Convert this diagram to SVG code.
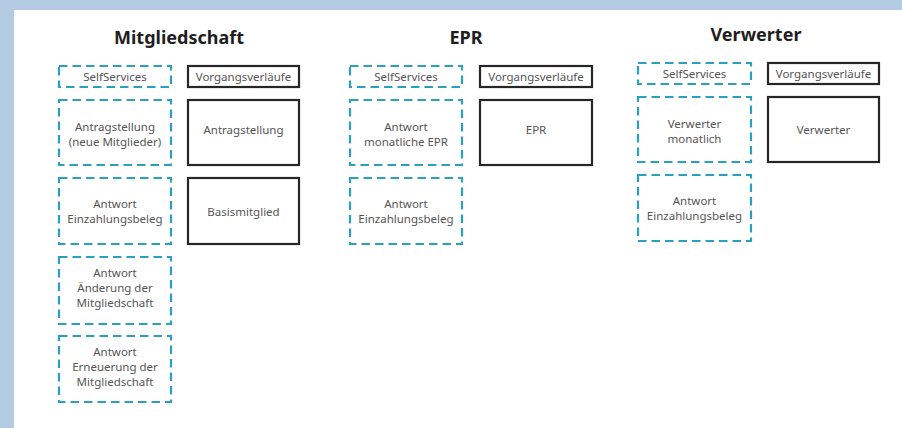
<svg xmlns="http://www.w3.org/2000/svg" width="902" height="428" viewBox="0 0 902 428">
<style>
.bg{fill:#b3cce3}
.panel{fill:#ffffff}
.title{font-family:"Noto Sans","Liberation Sans",sans-serif;font-weight:700;font-size:18px;fill:#1e1e1e;text-anchor:middle}
.lbl{font-family:"Noto Sans","Liberation Sans",sans-serif;font-size:11.5px;fill:#555555;text-anchor:middle}
.dash{fill:#ffffff;stroke:#2b9fc2;stroke-width:2.2;stroke-dasharray:8.5 5}
.solid{fill:#ffffff;stroke:#262626;stroke-width:2.2}
</style>
<rect class="bg" x="0" y="0" width="902" height="428"/>
<rect class="panel" x="14" y="10" width="888" height="418"/>
<g id="connectors"></g>
<g id="col-mitgliedschaft">
  <text class="title" x="179" y="44">Mitgliedschaft</text>
  <g id="m-selfservices"><rect class="dash" x="59" y="66" width="112" height="21"/><text class="lbl" x="115" y="81">SelfServices</text></g>
  <g id="m-vorgang"><rect class="solid" x="188" y="66" width="111" height="21"/><text class="lbl" x="243.5" y="81">Vorgangsverläufe</text></g>
  <g id="m-antrag-ss"><rect class="dash" x="59" y="100" width="112" height="65"/><text class="lbl" x="115" y="131">Antragstellung</text><text class="lbl" x="115" y="146">(neue Mitglieder)</text></g>
  <g id="m-antrag-vv"><rect class="solid" x="188" y="100" width="111" height="65"/><text class="lbl" x="243.5" y="134">Antragstellung</text></g>
  <g id="m-einzahl"><rect class="dash" x="59" y="178" width="112" height="66"/><text class="lbl" x="115" y="208">Antwort</text><text class="lbl" x="115" y="223">Einzahlungsbeleg</text></g>
  <g id="m-basis"><rect class="solid" x="188" y="178" width="111" height="66"/><text class="lbl" x="243.5" y="216">Basismitglied</text></g>
  <g id="m-aenderung"><rect class="dash" x="59" y="257" width="112" height="67"/><text class="lbl" x="115" y="277">Antwort</text><text class="lbl" x="115" y="292">Änderung der</text><text class="lbl" x="115" y="307">Mitgliedschaft</text></g>
  <g id="m-erneuerung"><rect class="dash" x="59" y="336" width="112" height="66"/><text class="lbl" x="115" y="356">Antwort</text><text class="lbl" x="115" y="371">Erneuerung der</text><text class="lbl" x="115" y="386">Mitgliedschaft</text></g>
</g>
<g id="col-epr">
  <text class="title" x="466" y="44">EPR</text>
  <g id="e-selfservices"><rect class="dash" x="350" y="66" width="112" height="21"/><text class="lbl" x="406" y="81">SelfServices</text></g>
  <g id="e-vorgang"><rect class="solid" x="480" y="66" width="112" height="21"/><text class="lbl" x="536" y="81">Vorgangsverläufe</text></g>
  <g id="e-monatlich"><rect class="dash" x="350" y="100" width="112" height="65"/><text class="lbl" x="406" y="131">Antwort</text><text class="lbl" x="406" y="146">monatliche EPR</text></g>
  <g id="e-epr"><rect class="solid" x="480" y="100" width="112" height="65"/><text class="lbl" x="536" y="134">EPR</text></g>
  <g id="e-einzahl"><rect class="dash" x="350" y="178" width="112" height="66"/><text class="lbl" x="406" y="208">Antwort</text><text class="lbl" x="406" y="223">Einzahlungsbeleg</text></g>
</g>
<g id="col-verwerter">
  <text class="title" x="756" y="41">Verwerter</text>
  <g id="v-selfservices"><rect class="dash" x="638" y="63" width="113" height="21"/><text class="lbl" x="694.5" y="78">SelfServices</text></g>
  <g id="v-vorgang"><rect class="solid" x="768" y="63" width="111" height="21"/><text class="lbl" x="823.5" y="78">Vorgangsverläufe</text></g>
  <g id="v-monatlich"><rect class="dash" x="638" y="97" width="113" height="65"/><text class="lbl" x="694.5" y="128">Verwerter</text><text class="lbl" x="694.5" y="143">monatlich</text></g>
  <g id="v-verwerter"><rect class="solid" x="768" y="97" width="111" height="65"/><text class="lbl" x="823.5" y="134">Verwerter</text></g>
  <g id="v-einzahl"><rect class="dash" x="638" y="175" width="113" height="66"/><text class="lbl" x="694.5" y="205">Antwort</text><text class="lbl" x="694.5" y="220">Einzahlungsbeleg</text></g>
</g>
</svg>
